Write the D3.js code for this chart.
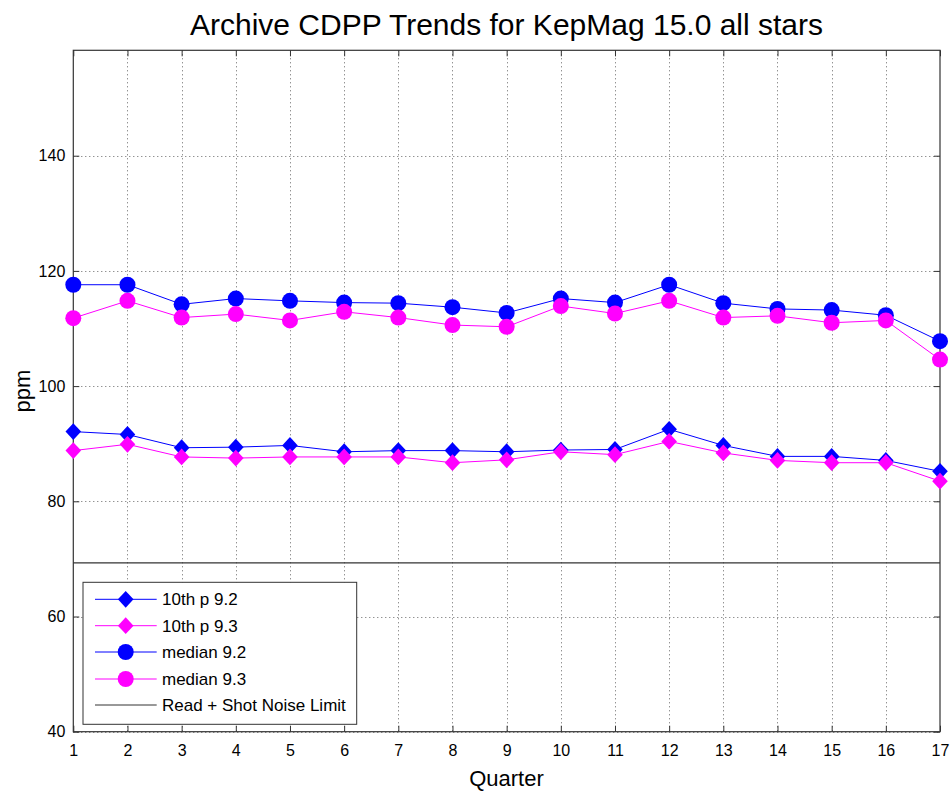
<!DOCTYPE html>
<html><head><meta charset="utf-8">
<script src="https://cdn.jsdelivr.net/npm/d3@7"></script>
<style>
body{margin:0;background:#fff;}
text{font-family:"Liberation Sans",Arial,Helvetica,sans-serif;fill:#000;}
</style></head>
<body><svg id="c" width="951" height="794"></svg>
<script>
const quarters = [1,2,3,4,5,6,7,8,9,10,11,12,13,14,15,16,17];
const p10_92 = [92.1,91.6,89.3,89.4,89.7,88.6,88.8,88.8,88.6,88.9,89.0,92.5,89.7,87.8,87.8,87.1,85.2];
const p10_93 = [88.8,89.9,87.7,87.5,87.7,87.7,87.7,86.7,87.2,88.6,88.1,90.4,88.4,87.1,86.7,86.7,83.5];
const med_92 = [117.6,117.6,114.2,115.2,114.8,114.5,114.4,113.7,112.7,115.2,114.5,117.6,114.4,113.4,113.2,112.3,107.8];
const med_93 = [111.8,114.8,111.9,112.5,111.4,112.9,111.9,110.6,110.3,113.9,112.6,114.8,111.9,112.2,111.0,111.4,104.6];
const noiseLimit = 69.3;
const yTicks = [40,60,80,100,120,140];
const seriesNames = ["10th p 9.2","10th p 9.3","median 9.2","median 9.3","Read + Shot Noise Limit"];

const svg = d3.select("#c");
const L=73.3, R=940, T=50.3, B=731.7;
const x = d3.scaleLinear().domain([1,17]).range([L,R]);
const y = d3.scaleLinear().domain([40,158.3]).range([B,T]);

// grid
const grid = svg.append("g").attr("stroke","#666").attr("stroke-width",1).attr("stroke-dasharray","1,3");
grid.selectAll(".gx").data(quarters.slice(1,-1)).enter().append("line")
  .attr("x1",d=>Math.round(x(d))+0.5).attr("x2",d=>Math.round(x(d))+0.5).attr("y1",T).attr("y2",B);
grid.selectAll(".gy").data(yTicks).enter().append("line")
  .attr("y1",d=>Math.round(y(d))+0.5).attr("y2",d=>Math.round(y(d))+0.5).attr("x1",L).attr("x2",R);

// axes (inward ticks)
const ax = svg.append("g");
ax.append("g").attr("transform",`translate(0,${B})`)
  .call(d3.axisBottom(x).tickValues(quarters).tickFormat(d3.format("d")).tickSizeInner(-6).tickSizeOuter(0).tickPadding(13));
ax.append("g").attr("transform",`translate(0,${T})`)
  .call(d3.axisTop(x).tickValues(quarters).tickFormat("").tickSizeInner(-6).tickSizeOuter(0));
ax.append("g").attr("transform",`translate(${L},0)`)
  .call(d3.axisLeft(y).tickValues(yTicks).tickSizeInner(-6).tickSizeOuter(0).tickPadding(8));
ax.append("g").attr("transform",`translate(${R},0)`)
  .call(d3.axisRight(y).tickValues(yTicks).tickFormat("").tickSizeInner(-6).tickSizeOuter(0));
ax.selectAll("path.domain").remove();
ax.selectAll(".tick line").attr("stroke","#333");
ax.selectAll(".tick text").style("font-size","16px").attr("fill","#000");
svg.append("rect").attr("x",L).attr("y",T).attr("width",R-L).attr("height",B-T)
  .attr("fill","none").attr("stroke","#333").attr("stroke-width",1.2);

// noise limit line
svg.append("line").attr("x1",L).attr("x2",R).attr("y1",y(noiseLimit)).attr("y2",y(noiseLimit))
  .attr("stroke","#333").attr("stroke-width",1.2);

const diamond = {draw(ctx,size){const w=7.8,h=8.4;ctx.moveTo(0,-h);ctx.lineTo(w,0);ctx.lineTo(0,h);ctx.lineTo(-w,0);ctx.closePath();}};
const series = [
  {name:seriesNames[0], vals:p10_92, color:"#0000ff", sym:diamond},
  {name:seriesNames[1], vals:p10_93, color:"#ff00ff", sym:diamond},
  {name:seriesNames[2], vals:med_92, color:"#0000ff", sym:d3.symbolCircle},
  {name:seriesNames[3], vals:med_93, color:"#ff00ff", sym:d3.symbolCircle}
];
const line = d3.line().x((d,i)=>x(quarters[i])).y(d=>y(d));
const symSize = s => Math.PI*8*8;
series.forEach(s=>{
  svg.append("path").datum(s.vals).attr("d",line).attr("fill","none").attr("stroke",s.color).attr("stroke-width",1);
  svg.append("g").selectAll("path").data(s.vals).enter().append("path")
    .attr("transform",(d,i)=>`translate(${x(quarters[i])},${y(d)})`)
    .attr("d",d3.symbol().type(s.sym).size(symSize(s.sym))).attr("fill",s.color);
});

// legend
const lg = svg.append("g");
lg.append("rect").attr("x",83).attr("y",582.3).attr("width",273.7).attr("height",142).attr("fill","#fff").attr("stroke","#333").attr("stroke-width",1);
const legY = [599.3,625.7,652,679,705];
seriesNames.forEach((n,i)=>{
  const s = series[i];
  lg.append("line").attr("x1",95).attr("x2",156.7).attr("y1",legY[i]).attr("y2",legY[i])
    .attr("stroke", s? s.color : "#333").attr("stroke-width",1);
  if(s) lg.append("path").attr("transform",`translate(125.7,${legY[i]})`)
    .attr("d",d3.symbol().type(s.sym).size(symSize(s.sym))).attr("fill",s.color);
  lg.append("text").attr("x",162).attr("y",legY[i]+6).style("font-size","17px").text(n);
});

// titles
svg.append("text").attr("x",506.5).attr("y",35).attr("text-anchor","middle").style("font-size","30px")
  .text("Archive CDPP Trends for KepMag 15.0 all stars");
svg.append("text").attr("x",506.5).attr("y",786).attr("text-anchor","middle").style("font-size","22px").text("Quarter");
svg.append("text").attr("transform","translate(30,391) rotate(-90)").attr("text-anchor","middle").style("font-size","22px").text("ppm");
</script></body></html>
